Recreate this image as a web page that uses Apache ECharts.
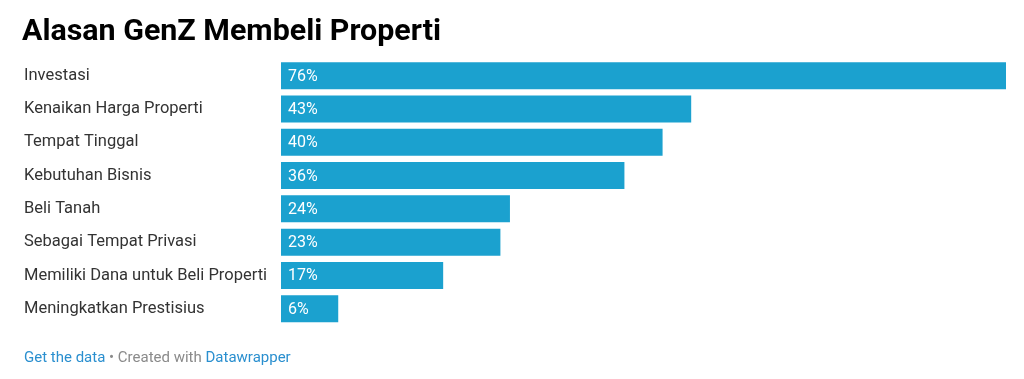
<!DOCTYPE html>
<html>
<head>
<meta charset="utf-8">
<script src="https://cdn.jsdelivr.net/npm/echarts@6/dist/echarts.min.js"></script>
<style>html,body{margin:0;padding:0;background:#fff}#c{width:1024px;height:379px}</style>
</head>
<body>
<div id="c"></div>
<script>
const categories = ["Investasi","Kenaikan Harga Properti","Tempat Tinggal","Kebutuhan Bisnis","Beli Tanah","Sebagai Tempat Privasi","Memiliki Dana untuk Beli Properti","Meningkatkan Prestisius"];
const values = [76,43,40,36,24,23,17,6];

const chart = echarts.init(document.getElementById('c'));
chart.setOption({
  animation:false,
  backgroundColor:'#ffffff',
  title:[{
    text:'Alasan GenZ Membeli Properti',
    left:17, top:12,
    textStyle:{fontFamily:'Roboto', fontWeight:'bold', fontSize:30.4, color:'#000'}
  },{
    text:'{a|Get the data} {b|• Created with} {a|Datawrapper}',
    left:19, top:346,
    textStyle:{fontFamily:'Roboto', fontWeight:'normal', fontSize:15, rich:{
      a:{color:'#2a8fcf', fontFamily:'Roboto', fontWeight:'normal', fontSize:15},
      b:{color:'#8a8a8a', fontFamily:'Roboto', fontWeight:'normal', fontSize:15}
    }}
  }],
  grid:{left:281, right:18, top:59, height:266.4, containLabel:false},
  xAxis:{type:'value', min:0, max:76, show:false},
  yAxis:{type:'category', data:categories, inverse:true,
    axisLine:{show:false}, axisTick:{show:false},
    axisLabel:{align:'left', margin:257, fontFamily:'Roboto', fontSize:16.5, color:'#333'}
  },
  series:[{
    type:'bar', data:values, barCategoryGap:'19%',
    itemStyle:{color:'#1ba1cf'},
    label:{show:true, position:'insideLeft', offset:[2,1], formatter:'{c}%', color:'#fff', fontFamily:'Roboto', fontSize:16}
  }]
});
</script>
</body>
</html>
